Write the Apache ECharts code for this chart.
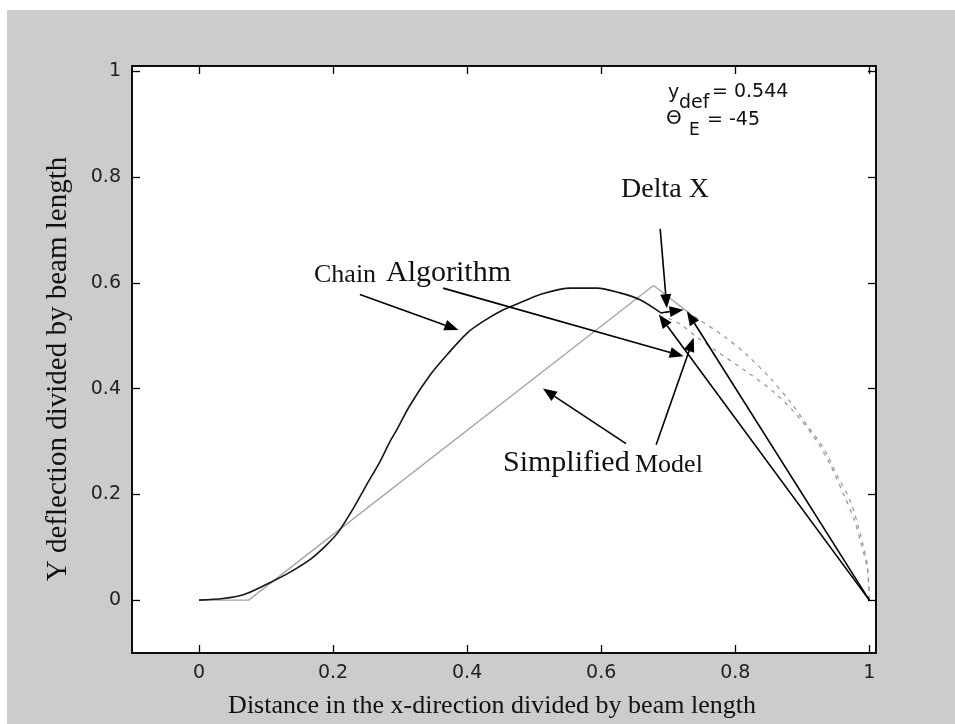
<!DOCTYPE html>
<html>
<head>
<meta charset="utf-8">
<script src="https://cdn.jsdelivr.net/npm/echarts@6/dist/echarts.min.js"></script>
<style>
  html, body { margin: 0; padding: 0; background: #ffffff; width: 955px; height: 724px; overflow: hidden; }
  #chart { position: absolute; left: 7px; top: 10px; width: 948px; height: 714px; background: #cccccc; }
</style>
</head>
<body>
<div id="chart"></div>
<script>
// Chain algorithm beam shape (x / L, y / L)
const chainX = [0, 0.036, 0.066, 0.101, 0.136, 0.166, 0.19, 0.208, 0.23, 0.25, 0.27, 0.285, 0.295, 0.315, 0.345, 0.37, 0.40, 0.424, 0.454, 0.484, 0.509, 0.554, 0.594, 0.628, 0.658, 0.688];
const chainY = [0, 0.003, 0.01, 0.03, 0.053, 0.077, 0.104, 0.129, 0.173, 0.218, 0.262, 0.3, 0.322, 0.369, 0.426, 0.464, 0.505, 0.527, 0.549, 0.565, 0.578, 0.590, 0.590, 0.581, 0.568, 0.544];

// Simplified (two-link) model
const simpX = [0, 0.074, 0.678, 0.728];
const simpY = [0, 0, 0.595, 0.546];

// Dashed end-segment curves
const outerX = [0.728, 0.743, 0.783, 0.817, 0.852, 0.882, 0.907, 0.932, 0.952, 0.972, 0.987, 0.997, 1.0];
const outerY = [0.546, 0.533, 0.499, 0.464, 0.420, 0.375, 0.331, 0.287, 0.236, 0.186, 0.123, 0.066, 0.0];
const innerX = [0.700, 0.718, 0.738, 0.773, 0.817, 0.857, 0.892, 0.922, 0.942, 0.962, 0.977, 0.987, 0.997, 1.0];
const innerY = [0.533, 0.522, 0.502, 0.470, 0.432, 0.394, 0.350, 0.300, 0.255, 0.199, 0.154, 0.110, 0.060, 0.0];

// Axis ticks
const xTicks = [0, 0.2, 0.4, 0.6, 0.8, 1];
const yTicks = [0, 0.2, 0.4, 0.6, 0.8, 1];

// Annotation arrows: [fromX, fromY] -> [toX, toY] (arrowhead at "to")
const arrowFrom = [
  [0.240, 0.578], [0.364, 0.590], [0.688, 0.702], [0.688, 0.543],
  [1.0, 0.0], [1.0, 0.0], [0.637, 0.296], [0.682, 0.294]
];
const arrowTo = [
  [0.387, 0.511], [0.723, 0.461], [0.698, 0.552], [0.723, 0.549],
  [0.686, 0.540], [0.728, 0.546], [0.513, 0.400], [0.738, 0.496]
];

const OX = 7, OY = 10; // container offset inside the page
const serif = '"Liberation Serif", "Times New Roman", serif';
const sans = '"DejaVu Sans", sans-serif';
const zip = (xs, ys) => xs.map((x, i) => [x, ys[i]]);
const fmt = v => String(Math.round(v * 10) / 10);

const chart = echarts.init(document.getElementById('chart'), null, { renderer: 'canvas' });

function makeAxis(pos, ticks, showLabel) {
  return {
    type: 'value', min: -0.1, max: 1.01, position: pos,
    axisLine: { show: true, onZero: false, lineStyle: { color: '#000', width: 1.5 } },
    axisTick: { show: true, inside: true, length: 8, customValues: ticks, lineStyle: { color: '#000', width: 1.3 } },
    axisLabel: { show: showLabel, customValues: ticks, formatter: fmt, color: '#222', fontFamily: sans, fontSize: 19, margin: 11 },
    splitLine: { show: false }
  };
}

chart.setOption({
  animation: false,
  grid: {
    left: 125, right: 79, top: 56, bottom: 71,
    show: true, backgroundColor: '#ffffff', borderColor: '#000', borderWidth: 1.5,
    containLabel: false, outerBoundsMode: 'none'
  },
  xAxis: [makeAxis('bottom', xTicks, true), makeAxis('top', xTicks, false)],
  yAxis: [makeAxis('left', yTicks, true), makeAxis('right', yTicks, false)],
  series: [
    {
      name: 'Simplified Model', type: 'line', data: zip(simpX, simpY),
      showSymbol: false, lineStyle: { color: '#a4a4a4', width: 1.3 }, z: 2
    },
    {
      name: 'outer', type: 'line', data: zip(outerX, outerY), smooth: 0.3,
      showSymbol: false, lineStyle: { color: '#9a9a9a', width: 1.3, type: [4, 5] }, z: 2
    },
    {
      name: 'inner', type: 'line', data: zip(innerX, innerY), smooth: 0.3,
      showSymbol: false, lineStyle: { color: '#9a9a9a', width: 1.3, type: [4, 5] }, z: 2
    },
    {
      name: 'Chain Algorithm', type: 'line', data: zip(chainX, chainY), smooth: 0.3,
      showSymbol: false, lineStyle: { color: '#151515', width: 1.6 }, z: 3
    }
  ]
});

// Arrows and text annotations, placed through the axes
const toPx = p => chart.convertToPixel({ xAxisIndex: 0, yAxisIndex: 0 }, p);
const graphics = [];
arrowFrom.forEach((f, i) => {
  const a = toPx(f), b = toPx(arrowTo[i]);
  const dx = b[0] - a[0], dy = b[1] - a[1];
  const len = Math.hypot(dx, dy), ux = dx / len, uy = dy / len;
  const head = 14, half = 5.5;
  const bx = b[0] - ux * head, by = b[1] - uy * head;
  graphics.push({
    type: 'line', shape: { x1: a[0], y1: a[1], x2: bx, y2: by },
    style: { stroke: '#000', lineWidth: 1.6 }, z: 10
  });
  graphics.push({
    type: 'polygon',
    shape: { points: [[b[0], b[1]], [bx - uy * half, by + ux * half], [bx + uy * half, by - ux * half]] },
    style: { fill: '#000' }, z: 10
  });
});

function txt(text, x, y, size, family, extra) {
  return {
    type: 'text', x: x - OX, y: y - OY, z: 11,
    style: Object.assign({ text, fontSize: size, fontFamily: family, fill: '#111', align: 'left', verticalAlign: 'middle' }, extra || {})
  };
}

graphics.push(txt('Chain', 314, 275, 26, serif));
graphics.push(txt('Algorithm', 386, 273, 30, serif));
graphics.push(txt('Delta X', 621, 190, 28, serif));
graphics.push(txt('Simplified', 503, 463, 30, serif));
graphics.push(txt('Model', 635, 465, 26, serif));

graphics.push(txt('y', 668, 93, 19, sans));
graphics.push(txt('def', 679, 103, 19, sans));
graphics.push(txt('= 0.544', 712, 92, 19, sans));
graphics.push(txt('\u0398', 666, 119, 20, sans));
graphics.push(txt('E', 689, 131, 17, sans));
graphics.push(txt('= -45', 707, 120, 19, sans));

// axis titles
graphics.push(txt('Distance in the x-direction divided by beam length', 492, 706, 26, serif, { align: 'center' }));
graphics.push(Object.assign(txt('Y deflection divided by beam length', 58, 369, 29, serif, { align: 'center' }), { rotation: Math.PI / 2 }));

chart.setOption({ graphic: graphics });
</script>
</body>
</html>
